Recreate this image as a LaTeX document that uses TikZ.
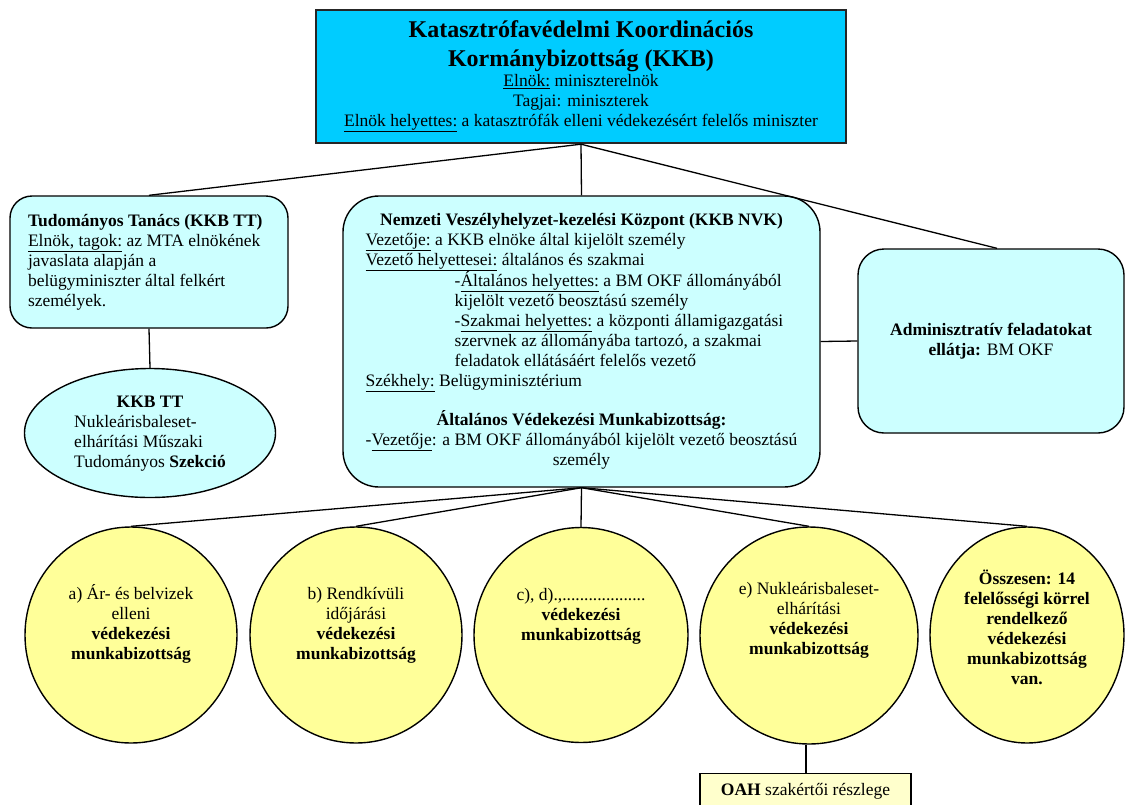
\documentclass[tikz,border=0pt]{standalone}
\usepackage{fontspec}
\setmainfont{Liberation Serif}
\usetikzlibrary{shapes.geometric}
\definecolor{kkbblue}{HTML}{00CCFF}
\definecolor{lcyan}{HTML}{CCFFFF}
\definecolor{lyellow}{HTML}{FFFF99}
\definecolor{pyellow}{HTML}{FFFFCC}
\begin{document}
\begin{tikzpicture}[x=1pt,y=-1pt,
  every node/.style={font=\fontsize{17.5}{20}\selectfont, inner sep=0pt},
  conn/.style={draw=black, line width=1.3pt},
  topbox/.style={draw=black!85, line width=2.4pt, fill=kkbblue, minimum width=530pt, minimum height=133pt},
  ttbox/.style={draw=black, line width=1.4pt, fill=lcyan, rounded corners=22pt, minimum width=278pt, minimum height=132pt},
  nvkbox/.style={draw=black, line width=1.4pt, fill=lcyan, rounded corners=36pt, minimum width=477pt, minimum height=291pt},
  admbox/.style={draw=black, line width=1.4pt, fill=lcyan, rounded corners=26pt, minimum width=266pt, minimum height=184pt},
  ttell/.style={ellipse, draw=black, line width=1.4pt, fill=lcyan, minimum width=251pt, minimum height=129pt},
  circ/.style={ellipse, draw=black, line width=1.4pt, fill=lyellow},
  ctext/.style={align=center},
  oahbox/.style={draw=black, line width=1.4pt, fill=pyellow, minimum width=211pt, text height=22pt, text depth=32pt}
]
\useasboundingbox (0,0) rectangle (1127,804);

% top
\node[topbox] (kkb) at (581,76.5) {\begin{tabular}{@{}c@{}}
{\fontsize{24}{28}\selectfont\bfseries Katasztrófavédelmi Koordinációs}\\[6pt]
{\fontsize{24}{28}\selectfont\bfseries Kormánybizottság (KKB)}\\[0pt]
\underline{Elnök:} miniszterelnök\\
Tagjai: miniszterek\\
\underline{Elnök helyettes:} a katasztrófák elleni védekezésért felelős miniszter
\end{tabular}};

% Tudományos Tanács
\node[ttbox] (tt) at (149,262) {\begin{tabular}{@{}p{242pt}@{}}
\textbf{Tudományos Tanács (KKB TT)}\\
\underline{Elnök, tagok:} az MTA elnökének\\
javaslata alapján a\\
belügyminiszter által felkért\\
személyek.
\end{tabular}};

\node[ttell] (ttsec) at (150,433) {\begin{tabular}{@{}l@{}}
\multicolumn{1}{@{}c@{}}{\textbf{KKB TT}}\\
Nukleárisbaleset-\\
elhárítási Műszaki\\
Tudományos \textbf{Szekció}
\end{tabular}};

% NVK
\node[nvkbox] (nvk) at (581.5,341.5) {\begin{tabular}{@{}l@{}}
\multicolumn{1}{@{}c@{}}{\textbf{Nemzeti Veszélyhelyzet-kezelési Központ (KKB NVK)}}\\
\underline{Vezetője:} a KKB elnöke által kijelölt személy\\
\underline{Vezető helyettesei:} általános és szakmai\\
\hspace*{89pt}-\underline{Általános helyettes:} a BM OKF állományából\\
\hspace*{89pt}kijelölt vezető beosztású személy\\
\hspace*{89pt}-\underline{Szakmai helyettes:} a központi államigazgatási\\
\hspace*{89pt}szervnek az állományába tartozó, a szakmai\\
\hspace*{89pt}feladatok ellátásáért felelős vezető\\
\underline{Székhely:} Belügyminisztérium\\[18pt]
\multicolumn{1}{@{}c@{}}{\textbf{Általános Védekezési Munkabizottság:}}\\
\multicolumn{1}{@{}c@{}}{-\underline{Vezetője}: a BM OKF állományából kijelölt vezető beosztású}\\
\multicolumn{1}{@{}c@{}}{személy}
\end{tabular}};

% Admin
\node[admbox] (adm) at (991,341) {\begin{tabular}{@{}c@{}}
\textbf{Adminisztratív feladatokat}\\
\textbf{ellátja:} BM OKF
\end{tabular}};

% circles
\node[circ, minimum width=212pt, minimum height=216pt] (ca) at (131,635) {};
\node[circ, minimum width=212pt, minimum height=216pt] (cb) at (356,635) {};
\node[circ, minimum width=214pt, minimum height=215pt] (cc) at (581,635) {};
\node[circ, minimum width=218pt, minimum height=217pt] (ce) at (809,635.5) {};
\node[circ, minimum width=194pt, minimum height=216pt] (cf) at (1027,635) {};

\node[ctext] (ta) at ([yshift=10pt]ca.center) {\begin{tabular}{@{}c@{}}a) Ár- és belvizek\\ elleni\\ \textbf{védekezési}\\ \textbf{munkabizottság}\end{tabular}};
\node[ctext] (tb) at ([yshift=10pt]cb.center) {\begin{tabular}{@{}c@{}}b) Rendkívüli\\ időjárási\\ \textbf{védekezési}\\ \textbf{munkabizottság}\end{tabular}};
\node[ctext] (tc) at ([yshift=19pt]cc.center) {\begin{tabular}{@{}c@{}}c), d).,...................\\ \textbf{védekezési}\\ \textbf{munkabizottság}\end{tabular}};
\node[ctext] (te) at ([yshift=15pt]ce.center) {\begin{tabular}{@{}c@{}}e) Nukleárisbaleset-\\ elhárítási\\ \textbf{védekezési}\\ \textbf{munkabizottság}\end{tabular}};
\node[ctext] (tf) at ([yshift=5pt]cf.center) {\begin{tabular}{@{}c@{}}\bfseries Összesen: 14\\ \bfseries felelősségi körrel\\ \bfseries rendelkező\\ \bfseries védekezési\\ \bfseries munkabizottság\\ \bfseries van.\end{tabular}};

% OAH
\node[oahbox, anchor=north] (oah) at (805.5,773) {\textbf{OAH} szakértői részlege};

% connectors
\draw[conn] (kkb.south) -- (tt.north);
\draw[conn] (kkb.south) -- (nvk.north);
\draw[conn] (kkb.south) -- ([xshift=6pt]adm.north);
\draw[conn] (tt.south) -- (ttsec.north);
\draw[conn] (nvk.east) -- (adm.west);
\draw[conn] (nvk.south) -- (ca.north);
\draw[conn] (nvk.south) -- (cb.north);
\draw[conn] (nvk.south) -- (cc.north);
\draw[conn] (nvk.south) -- (ce.north);
\draw[conn] (nvk.south) -- (cf.north);
\draw[conn] ([xshift=-3pt]ce.south) -- ([xshift=-3pt]ce.south |- oah.north);
\end{tikzpicture}
\end{document}
